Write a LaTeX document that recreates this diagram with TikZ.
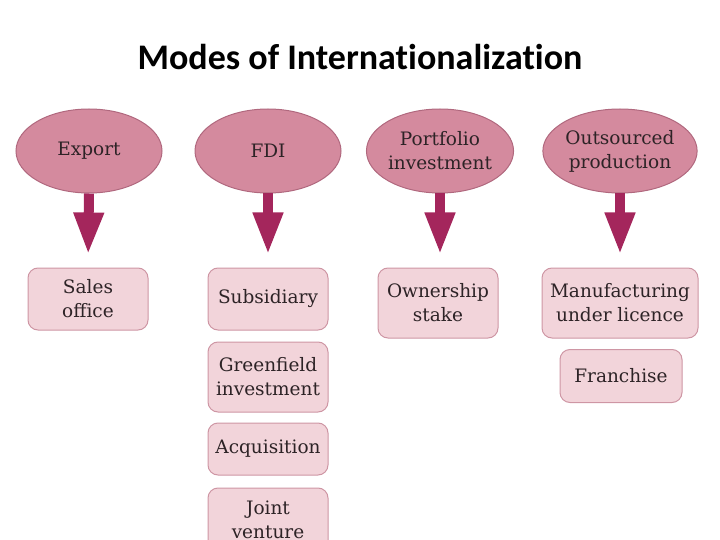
\documentclass[tikz,border=0pt]{standalone}
\usepackage{fontspec}
\setmainfont{DejaVu Serif}
\newfontfamily\titlefont[Ligatures=NoCommon]{Carlito}
\usepackage{xcolor}
\usepackage{tikz}
\usetikzlibrary{shapes.geometric, arrows.meta, positioning, calc}
\definecolor{modefill}{RGB}{212, 138, 158}
\definecolor{modeedge}{RGB}{176, 104, 126}
\definecolor{boxfill}{RGB}{242, 212, 218}
\definecolor{boxedge}{RGB}{206, 150, 164}
\definecolor{arrowcol}{RGB}{164, 38, 92}
\definecolor{textcol}{RGB}{45, 35, 38}

\tikzset{
  modeellipse/.style={ellipse, draw=modeedge, fill=modefill, line width=1pt,
        minimum width=146pt, minimum height=84pt, inner sep=0pt, align=center,
        text=textcol, font=\fontsize{18.5}{24}\selectfont},
  outcomebox/.style={draw=boxedge, fill=boxfill, rounded corners=10pt, line width=1pt,
        minimum width=120pt, inner sep=2pt, align=center,
        text=textcol, font=\fontsize{18.5}{24}\selectfont},
  modearrow/.style={draw=arrowcol, line width=10pt,
        -{Triangle[width=28pt,length=42pt]}, shorten >=13pt}
}

\begin{document}
\begin{tikzpicture}[x=1pt, y=-1pt]
  \useasboundingbox (0,0) rectangle (720,540);

  % title
  \node[anchor=base] (title) at (360,70) {\titlefont\bfseries\fontsize{36}{40}\selectfont Modes of Internationalization};

  % modes
  \node[modeellipse] (export) at (89,151) {Export};
  \node[modeellipse] (fdi) at (268,151) {FDI};
  \node[modeellipse] (portfolio) at (440,151) {Portfolio\\investment};
  \node[modeellipse] (outsourced) at (620,151) {Outsourced\\production};

  % outcomes
  \node[outcomebox, minimum height=62pt] (sales) at (88,299) {Sales\\office};
  \node[outcomebox, minimum height=62pt] (subsidiary) at (268,299) {Subsidiary};
  \node[outcomebox, minimum height=70pt] (greenfield) at (268,377) {Greenfield\\investment};
  \node[outcomebox, minimum height=52pt] (acquisition) at (268,449) {Acquisition};
  \node[outcomebox, minimum height=64pt] (joint) at (268,520) {Joint\\venture};
  \node[outcomebox, minimum height=70pt] (ownership) at (438,303) {Ownership\\stake};
  \node[outcomebox, minimum height=70pt, minimum width=156pt] (manufacturing) at (620,303) {Manufacturing\\under licence};
  \node[outcomebox, minimum height=53pt, minimum width=122pt] (franchise) at (621,376) {Franchise};

  % arrows
  \draw[modearrow] (export.south) -- (sales.north);
  \draw[modearrow] (fdi.south) -- (subsidiary.north);
  \draw[modearrow] (portfolio.south) -- (portfolio.south |- ownership.north);
  \draw[modearrow] (outsourced.south) -- (outsourced.south |- manufacturing.north);
\end{tikzpicture}
\end{document}
